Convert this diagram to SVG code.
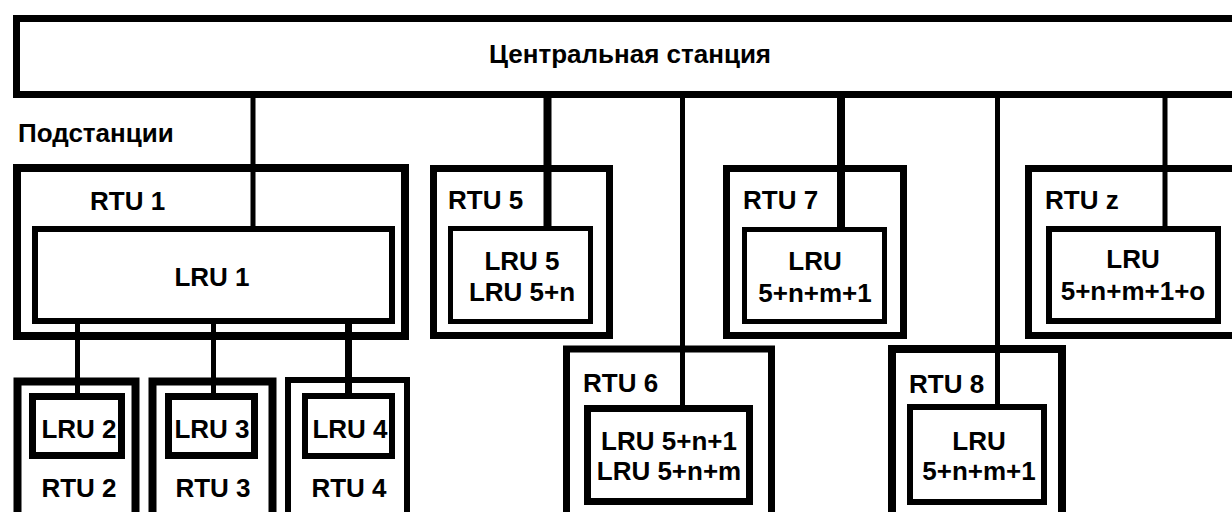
<svg xmlns="http://www.w3.org/2000/svg" width="1232" height="512" viewBox="0 0 1232 512">
<style>
.box{fill:none;stroke:#000;}
.rtu{stroke-width:8;}
.lru{stroke-width:6;}
.ln{stroke:#000;fill:none;}
text{font-family:"Liberation Sans",Arial,sans-serif;font-weight:bold;font-size:26px;fill:#000;}
.c{text-anchor:middle;}
</style>
<rect width="1232" height="512" fill="#fff"/>
<g id="central">
<rect class="box" x="16.5" y="18.5" width="1240" height="76" stroke-width="7"/>
<text class="c" x="630" y="63">Центральная станция</text>
</g>
<g id="label-substations">
<text x="18" y="142">Подстанции</text>
</g>
<g id="rtu1">
<rect class="box rtu" x="17" y="168" width="388" height="168"/>
<text x="90" y="210">RTU 1</text>
</g>
<g id="lru1">
<rect class="box lru" x="35" y="229" width="357" height="92"/>
<text class="c" x="212" y="286">LRU 1</text>
</g>
<g id="rtu5">
<rect class="box" stroke-width="7" x="433.5" y="168.5" width="176" height="167"/>
<text x="448" y="209">RTU 5</text>
</g>
<g id="lru5">
<rect class="box" stroke-width="5" x="450.5" y="228.5" width="140" height="93"/>
<text class="c" x="522" y="270">LRU 5</text>
<text class="c" x="522" y="301">LRU 5+n</text>
</g>
<g id="rtu7">
<rect class="box" stroke-width="7" x="726.5" y="168.5" width="177" height="167"/>
<text x="743" y="209">RTU 7</text>
</g>
<g id="lru7">
<rect class="box" stroke-width="5" x="744.5" y="229.5" width="140" height="92"/>
<text class="c" x="815" y="270">LRU</text>
<text class="c" x="815" y="302">5+n+m+1</text>
</g>
<g id="rtuz">
<rect class="box" stroke-width="7" x="1028.5" y="168.5" width="250" height="167"/>
<text x="1045" y="209">RTU z</text>
</g>
<g id="lruz">
<rect class="box" stroke-width="6" x="1049" y="229" width="169" height="92"/>
<text class="c" x="1133" y="268">LRU</text>
<text class="c" x="1133" y="300">5+n+m+1+o</text>
</g>
<g id="rtu6">
<rect class="box" stroke-width="7" x="566.5" y="349" width="205" height="200"/>
<text x="583" y="392">RTU 6</text>
</g>
<g id="lru6">
<rect class="box" stroke-width="7" x="587.5" y="408.5" width="162" height="93"/>
<text class="c" x="669" y="450">LRU 5+n+1</text>
<text class="c" x="669" y="480">LRU 5+n+m</text>
</g>
<g id="rtu8">
<rect class="box" stroke-width="8" x="892" y="349" width="170" height="200"/>
<text x="909" y="393">RTU 8</text>
</g>
<g id="lru8">
<rect class="box" stroke-width="6" x="910" y="407" width="134" height="95"/>
<text class="c" x="979" y="450">LRU</text>
<text class="c" x="979" y="480">5+n+m+1</text>
</g>
<g id="rtu2">
<rect class="box rtu" x="17.5" y="381.5" width="118" height="200"/>
<text class="c" x="79" y="497">RTU 2</text>
</g>
<g id="lru2">
<rect class="box" stroke-width="7" x="32.5" y="396.5" width="89" height="59"/>
<text class="c" x="79" y="438">LRU 2</text>
</g>
<g id="rtu3">
<rect class="box rtu" x="152.5" y="381.5" width="120" height="200"/>
<text class="c" x="213" y="497">RTU 3</text>
</g>
<g id="lru3">
<rect class="box" stroke-width="7" x="168.5" y="396.5" width="86" height="59"/>
<text class="c" x="212" y="438">LRU 3</text>
</g>
<g id="rtu4">
<rect class="box" stroke-width="6" x="288" y="380" width="119" height="200"/>
<text class="c" x="349" y="497">RTU 4</text>
</g>
<g id="lru4">
<rect class="box" stroke-width="6" x="305" y="396" width="87" height="60"/>
<text class="c" x="350" y="438">LRU 4</text>
</g>
<g id="connectors">
<line class="ln" x1="253" y1="97" x2="253" y2="226" stroke-width="5"/>
<line class="ln" x1="547.5" y1="97" x2="547.5" y2="226" stroke-width="8"/>
<line class="ln" x1="682.5" y1="97" x2="682.5" y2="405" stroke-width="5"/>
<line class="ln" x1="841" y1="97" x2="841" y2="227" stroke-width="8"/>
<line class="ln" x1="997.5" y1="97" x2="997.5" y2="404" stroke-width="5"/>
<line class="ln" x1="1165" y1="97" x2="1165" y2="226" stroke-width="5"/>
<line class="ln" x1="77.5" y1="324" x2="77.5" y2="393" stroke-width="5"/>
<line class="ln" x1="213.5" y1="324" x2="213.5" y2="393" stroke-width="5"/>
<line class="ln" x1="348.5" y1="324" x2="348.5" y2="393" stroke-width="7"/>
</g>
</svg>
